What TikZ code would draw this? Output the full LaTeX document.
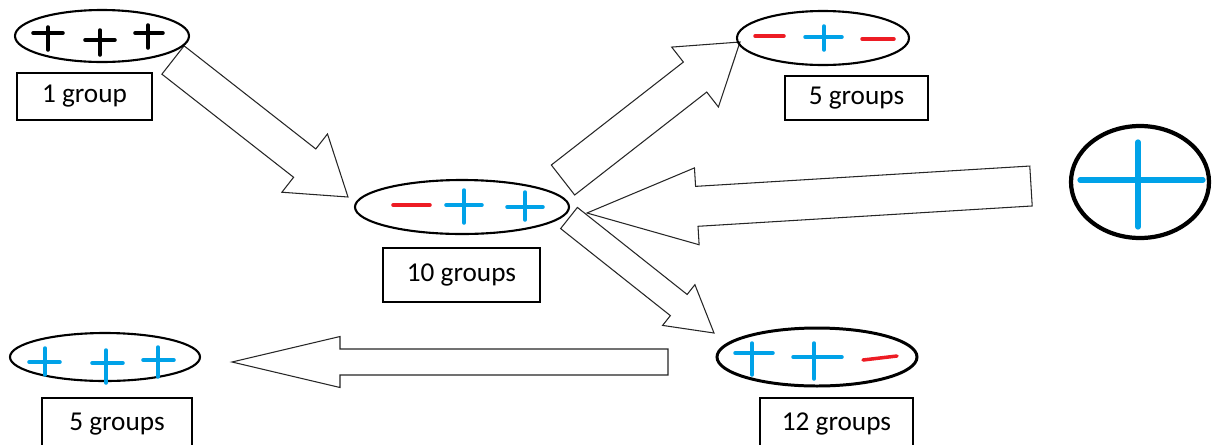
\documentclass[tikz,border=0pt]{standalone}
\usepackage{fontspec}
\setmainfont{Carlito}
\usetikzlibrary{positioning, shapes.geometric, calc}

\definecolor{signblue}{RGB}{0,162,232}
\definecolor{signred}{RGB}{237,28,36}

\def\px{0.02cm}
% block arrow: tail, tip, shaft half width, head half width, head length (px)
\newcommand{\blockarrow}[5]{%
  \path ($(#2)!{#5*\px}!(#1)$) coordinate (hb);
  \draw[blockarr] ($(#1)!{#3*\px}!90:(#2)$) -- ($(hb)!{#3*\px}!90:(#2)$)
    -- ($(hb)!{#4*\px}!90:(#2)$) -- (#2) -- ($(hb)!{#4*\px}!-90:(#2)$)
    -- ($(hb)!{#3*\px}!-90:(#2)$) -- ($(#1)!{#3*\px}!-90:(#2)$) -- cycle;
}
% plus sign: x1 x2 y (bar), x y1 y2 (stem), colour
\newcommand{\plusmark}[7]{%
  \draw[sign, #7] (#1,#3) -- (#2,#3) (#4,#5) -- (#4,#6);
}

\begin{document}
\begin{tikzpicture}[x=0.02cm, y=-0.02cm,
  grp/.style={draw, ellipse, line width=1.2pt, inner sep=0pt},
  lbl/.style={draw, rectangle, line width=0.6pt, inner sep=0pt,
    font=\fontsize{15.5}{18}\selectfont},
  sign/.style={line width=2pt, line cap=round},
  blockarr/.style={draw=black!85, line width=0.6pt, line join=miter, fill=white}
]
\clip (0,0) rectangle (1214,444);

% arrow ends
\coordinate (a1t) at (173,60);  \coordinate (a1p) at (348,197);
\coordinate (a2t) at (563,180); \coordinate (a2p) at (740,42);
\coordinate (a3t) at (1031,186); \coordinate (a3p) at (587,213);
\coordinate (a4t) at (569,218); \coordinate (a4p) at (714,333);
\coordinate (a5t) at (668,362); \coordinate (a5p) at (232,362);

% block arrows
\blockarrow{a1t}{a1p}{18}{37}{55}
\blockarrow{a2t}{a2p}{19}{38}{57}
\blockarrow{a4t}{a4p}{13.5}{26}{45}
\blockarrow{a3t}{a3p}{20}{38.5}{110}
\blockarrow{a5t}{a5p}{13}{25.5}{108}

% groups
\node[grp, minimum width=174*\px, minimum height=52*\px] (start) at (102,36) {};
\node[grp, minimum width=172*\px, minimum height=54*\px] (topright) at (823,38) {};
\node[grp, minimum width=214*\px, minimum height=54*\px] (mid) at (462,207) {};
\node[grp, line width=2.4pt, minimum width=138*\px, minimum height=112*\px] (single) at (1140,182) {};
\node[grp, line width=1.7pt, minimum width=200*\px, minimum height=58*\px] (botright) at (817,357) {};
\node[grp, minimum width=190*\px, minimum height=48*\px] (botleft) at (105,357) {};

% labels
\node[lbl, minimum width=135*\px, minimum height=47*\px] (lstart) at (84.5,96.5) {1 group};
\node[lbl, minimum width=143*\px, minimum height=44*\px] (ltopright) at (856.5,98) {5 groups};
\node[lbl, minimum width=157*\px, minimum height=54*\px] (lmid) at (461.5,275) {10 groups};
\node[lbl, minimum width=153*\px, minimum height=52*\px] (lbotright) at (836.5,424) {12 groups};
\node[lbl, minimum width=150*\px, minimum height=52*\px] (lbotleft) at (117,424) {5 groups};

% signs
\plusmark{33}{63}{33}{48}{27}{50}{black}
\plusmark{85}{115}{40}{100}{30}{55}{black}
\plusmark{135}{163}{33}{148}{25}{48}{black}

\draw[sign, signred] (755,36) -- (784,36);
\plusmark{805}{842}{37}{824}{26}{50}{signblue}
\draw[sign, signred] (862,39) -- (894,39);

\draw[sign, signred] (393,205) -- (430,205);
\plusmark{446}{482}{205}{464}{190}{223}{signblue}
\plusmark{507}{543}{207}{525}{192}{220}{signblue}

\plusmark{1080}{1203}{180}{1138}{142}{227}{signblue, line width=3pt}

\plusmark{735}{773}{353}{752}{343}{375}{signblue}
\plusmark{793}{842}{357}{814}{343}{379}{signblue}
\draw[sign, signred] (863,360) -- (897,356);

\plusmark{29}{60}{362}{45}{348}{375}{signblue}
\plusmark{92}{123}{363}{106}{350}{383}{signblue}
\plusmark{143}{174}{360}{158}{347}{377}{signblue}

\end{tikzpicture}
\end{document}
